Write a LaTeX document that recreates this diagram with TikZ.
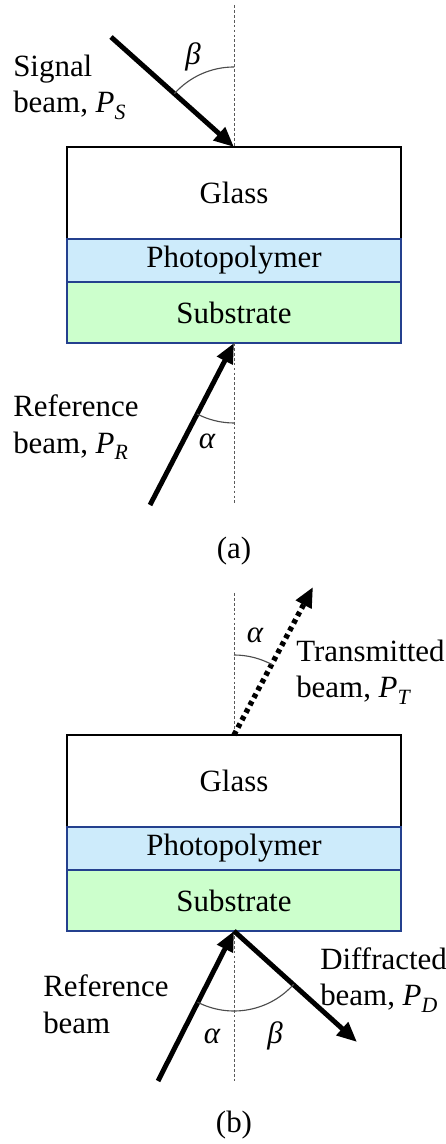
\documentclass[tikz,border=0pt]{standalone}
\usepackage{fontspec}
\setmainfont{Liberation Serif}
\usepackage{tikz}
\usetikzlibrary{arrows.meta,positioning}
\definecolor{polymer}{HTML}{CDEBFB}
\definecolor{substr}{HTML}{CCFFCC}
\definecolor{edge}{HTML}{24408E}
\newcommand{\pw}[1]{\textit{P}\raisebox{-0.45ex}{\fontsize{15.5}{15.5}\selectfont\textit{#1}}}

\begin{document}
\begin{tikzpicture}[
  layer/.style={draw=edge, line width=1.1pt, minimum width=8.35cm, inner sep=0pt, outer sep=0pt, font=\fontsize{22}{26}\selectfont},
  txt/.style={inner sep=0pt, align=left, anchor=west, font=\fontsize{22}{26}\selectfont},
  lab/.style={inner sep=0pt, font=\fontsize{22}{26}\selectfont\itshape},
  beam/.style={line width=3.5pt, -{Triangle[length=0.5cm, width=0.42cm]}},
  axis/.style={gray!70!black, line width=0.5pt, dash pattern=on 2pt off 1.5pt},
  angarc/.style={gray!60!black, line width=0.8pt}]
  \useasboundingbox (0,0) rectangle (11.15,28.6);
  % (a) recording
  \node[layer, draw=black, line width=1.4pt, fill=white, minimum height=2.3cm] (glassA) at (5.85,23.775) {Glass};
  \node[layer, fill=polymer, minimum height=1.075cm, below=0pt of glassA] (polyA) {Photopolymer};
  \node[layer, fill=substr, minimum height=1.525cm, below=0pt of polyA] (subA) {Substrate};
  \coordinate (topA) at (5.85,28.475);
  \coordinate (botA) at (5.85,15.975);
  \coordinate (sigA) at (2.775,27.675);
  \coordinate (refA) at (3.75,15.975);
  \draw[axis] (topA) -- (glassA.north);
  \draw[axis] (subA.south) -- (botA);
  \draw[beam] (sigA) -- (glassA.north);
  \draw[beam] (refA) -- (subA.south);
  \draw[angarc] ([shift={(90:2)}]glassA.north) arc[start angle=90, end angle=138.2, radius=2];
  \draw[angarc] ([shift={(242.6:2)}]subA.south) arc[start angle=242.6, end angle=270, radius=2];
  \node[lab] (betaA) at (4.825,27.175) {β};
  \node[lab] (alphaA) at (5.175,17.575) {α};
  \node[txt] (sigtxt) at (0.325,26.42) {Signal\\beam, \pw{S}};
  \node[txt] (reftxtA) at (0.325,17.92) {Reference\\beam, \pw{R}};
  \node[lab, font=\fontsize{22}{26}\selectfont] (capA) at (5.85,14.825) {(a)};
  % (b) reading
  \node[layer, draw=black, line width=1.4pt, fill=white, minimum height=2.3cm] (glassB) at (5.85,9.075) {Glass};
  \node[layer, fill=polymer, minimum height=1.075cm, below=0pt of glassB] (polyB) {Photopolymer};
  \node[layer, fill=substr, minimum height=1.525cm, below=0pt of polyB] (subB) {Substrate};
  \coordinate (topB) at (5.85,13.775);
  \coordinate (botB) at (5.85,1.575);
  \coordinate (trB) at (7.825,13.925);
  \coordinate (difB) at (8.925,2.55);
  \coordinate (refB) at (3.95,1.575);
  \draw[axis] (topB) -- (glassB.north);
  \draw[axis] (subB.south) -- (botB);
  \draw[beam, line width=3.8pt, dash pattern=on 3.2pt off 2.8pt] (glassB.north) -- (trB);
  \draw[beam] (refB) -- (subB.south);
  \draw[beam] (subB.south) -- (difB);
  \draw[angarc] ([shift={(90:2)}]glassB.north) arc[start angle=90, end angle=61.6, radius=2];
  \draw[angarc] ([shift={(242.8:2)}]subB.south) arc[start angle=242.8, end angle=318.2, radius=2];
  \node[lab] (alphaB) at (6.375,12.725) {α};
  \node[lab] (alphaC) at (5.3,2.7) {α};
  \node[lab] (betaB) at (6.875,2.7) {β};
  \node[txt] (trtxt) at (7.4,11.8) {Transmitted\\beam, \pw{T}};
  \node[txt] (diftxt) at (8.0,4.1) {Diffracted\\beam, \pw{D}};
  \node[txt] (reftxtB) at (1.075,3.49) {Reference\\beam};
  \node[lab, font=\fontsize{22}{26}\selectfont] (capB) at (5.85,0.475) {(b)};
\end{tikzpicture}
\end{document}
